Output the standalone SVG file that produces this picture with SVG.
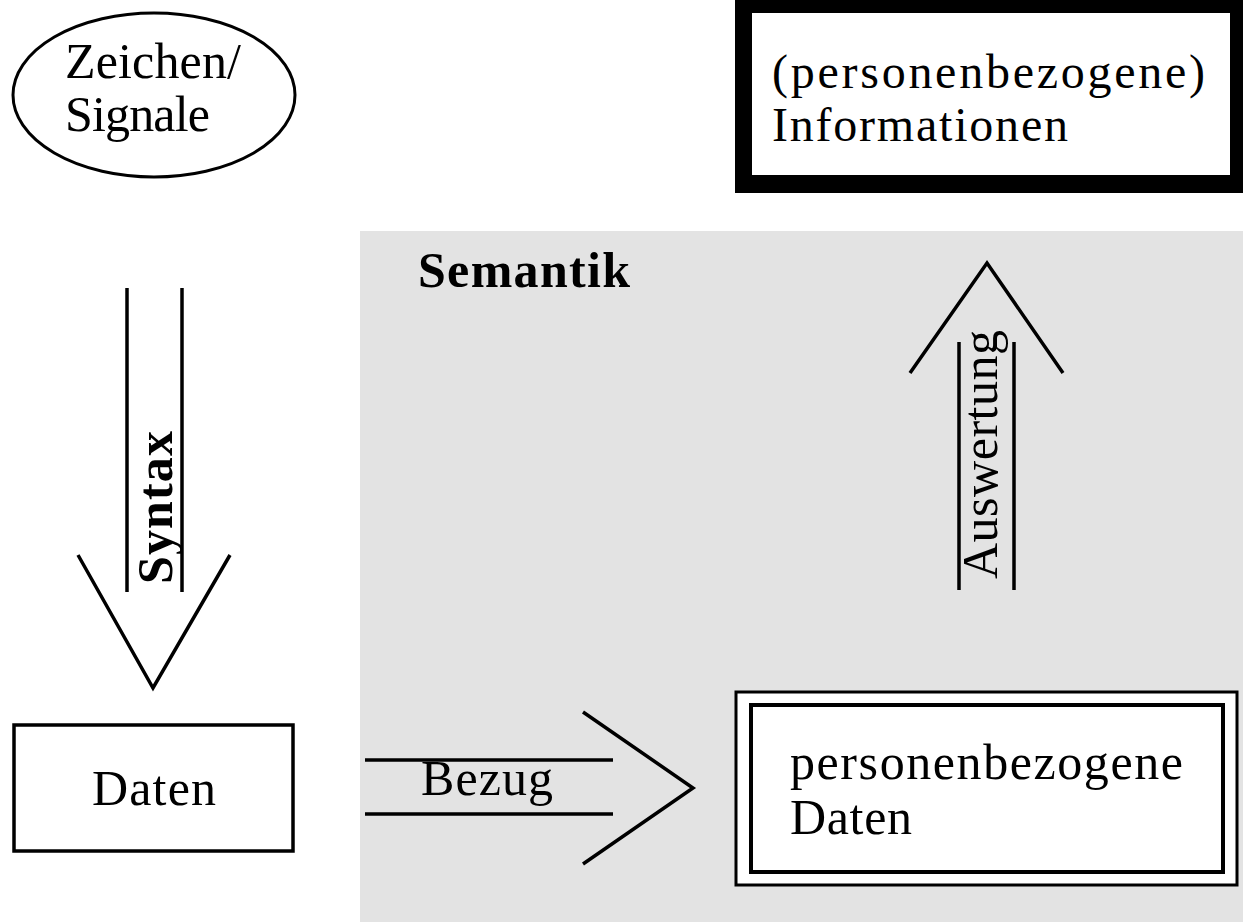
<svg xmlns="http://www.w3.org/2000/svg" width="1243" height="922" viewBox="0 0 1243 922">
<style>
.t{font-family:"Liberation Serif","Times New Roman",serif;font-size:50px;fill:#000}
.s{font-size:48px}
.b{font-weight:bold}
.ln{stroke:#000;stroke-width:3.5;fill:none}
</style>
<rect x="0" y="0" width="1243" height="922" fill="#fff"/>
<g id="semantik">
<rect x="360" y="231" width="883" height="691" fill="#e3e3e3"/>
<text class="t b" x="418" y="287" textLength="212">Semantik</text>
</g>
<g id="zeichen">
<ellipse cx="154" cy="95" rx="141" ry="82" fill="#fff" stroke="#000" stroke-width="3"/>
<text class="t" x="65" y="78" textLength="176">Zeichen/</text>
<text class="t" x="65" y="131" textLength="145">Signale</text>
</g>
<g id="informationen">
<rect x="735" y="0" width="508" height="193" fill="#000"/>
<rect x="752" y="13" width="478" height="162" fill="#fff"/>
<text class="t s" x="772" y="88" textLength="433">(personenbezogene)</text>
<text class="t s" x="772" y="141" textLength="296">Informationen</text>
</g>
<g id="daten">
<rect x="14" y="725" width="279" height="126" fill="#fff" stroke="#000" stroke-width="3.5"/>
<text class="t" x="92" y="805" textLength="124">Daten</text>
</g>
<g id="pdaten">
<rect x="736" y="692" width="501" height="193" fill="#fff" stroke="#000" stroke-width="3"/>
<rect x="751" y="705" width="472" height="167" fill="#fff" stroke="#000" stroke-width="4"/>
<text class="t" x="790" y="779" textLength="393">personenbezogene</text>
<text class="t" x="790" y="834" textLength="122">Daten</text>
</g>
<g id="connectors">
<g id="syntax">
<line class="ln" x1="127" y1="288" x2="127" y2="592"/>
<line class="ln" x1="182" y1="288" x2="182" y2="592"/>
<polyline class="ln" points="78,555 153,688 230,555"/>
<text class="t b" transform="translate(172,584) rotate(-90)" textLength="153">Syntax</text>
</g>
<g id="auswertung">
<line class="ln" x1="959" y1="342" x2="959" y2="590"/>
<line class="ln" x1="1014" y1="342" x2="1014" y2="590"/>
<polyline class="ln" points="910,373 987,263 1063,373"/>
<text class="t" transform="translate(997,579) rotate(-90)" textLength="249">Auswertung</text>
</g>
<g id="bezug">
<line class="ln" x1="365" y1="760" x2="613" y2="760"/>
<line class="ln" x1="365" y1="814" x2="613" y2="814"/>
<polyline class="ln" points="583,712 693,788 583,864"/>
<text class="t" x="421" y="795" textLength="132">Bezug</text>
</g>
</g>
</svg>
